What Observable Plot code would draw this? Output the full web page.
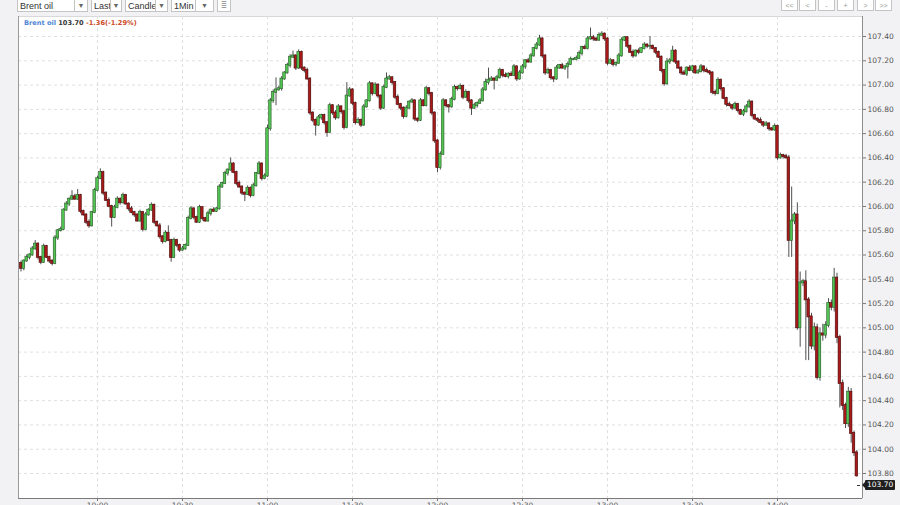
<!DOCTYPE html>
<html><head><meta charset="utf-8">
<script src="https://cdn.jsdelivr.net/npm/d3@7"></script>
<script src="https://cdn.jsdelivr.net/npm/@observablehq/plot@0.6"></script>
<style>
html,body{margin:0;padding:0;background:#f2f2f4;}
#wrap{position:relative;width:900px;height:505px;overflow:hidden;background:#f2f2f4;font-family:"Liberation Sans",Arial,sans-serif;}
#chart{position:absolute;left:0;top:0;}
.sel{position:absolute;top:-3px;height:15px;border:1px solid #c4c4c4;background:#fff;box-sizing:border-box;font-size:9px;color:#333;line-height:16px;padding-left:2px;overflow:hidden;white-space:nowrap;}
.sel .arr{position:absolute;right:0;top:0;bottom:0;border-left:1px solid #c4c4c4;background:#fff;font-size:7px;color:#666;text-align:center;line-height:16px;}
.nav{position:absolute;top:-3px;height:14px;border:1px solid #c4c4c4;background:#fff;box-sizing:border-box;font-size:7px;color:#999;text-align:center;line-height:15px;}
#legend{position:absolute;left:24px;top:19px;font-family:"DejaVu Sans",sans-serif;font-weight:bold;font-size:6.6px;white-space:nowrap;}
#last{position:absolute;left:865px;height:10px;background:#1e1e1e;color:#fff;font-family:"DejaVu Sans",sans-serif;font-size:7.5px;line-height:10px;padding:0 2px;border-radius:1px;}
#last:before{content:"";position:absolute;left:-3px;top:2px;border-top:3px solid transparent;border-bottom:3px solid transparent;border-right:3px solid #1e1e1e;}
#dash{position:absolute;left:857px;width:3px;height:1px;background:#333;}
</style></head><body>
<div id="wrap"><div id="chart"></div></div>
<script>
// ---- data ----
const symbol = "Brent oil";
const lastPrice = 103.70;
const changeText = "-1.36(-1.29%)";
const toolbarItems = ["Brent oil", "Last", "Candle", "1Min"];
const navButtons = ["<<", "<", "-", "+", ">", ">>"];
const startTime = "09:33";          // first 1-minute candle
const firstOpen = 105.53;
const closes = [
105.49,105.55,105.58,105.60,105.65,105.69,105.58,105.54,105.67,105.58,
105.55,105.53,105.74,105.80,105.81,105.97,106.02,106.06,106.08,106.06,
106.09,105.96,105.93,105.87,105.84,105.95,106.13,106.23,106.28,106.11,
106.05,106.00,105.91,105.99,106.06,106.03,106.09,106.02,105.98,105.95,
105.93,105.88,105.95,105.81,105.93,105.97,106.01,105.87,105.84,105.75,
105.71,105.78,105.72,105.58,105.72,105.68,105.64,105.65,105.68,105.90,
105.98,105.91,105.87,105.99,105.90,105.88,105.94,105.97,105.96,105.98,
106.16,106.19,106.27,106.30,106.35,106.28,106.19,106.16,106.11,106.10,
106.15,106.09,106.17,106.27,106.35,106.23,106.25,106.64,106.87,106.94,
106.96,106.97,107.05,107.10,107.16,107.23,107.24,107.14,107.27,107.14,
107.12,107.05,106.77,106.71,106.67,106.73,106.75,106.69,106.61,106.83,
106.77,106.73,106.82,106.78,106.65,106.91,106.96,106.85,106.69,106.71,
106.67,106.82,106.87,107.01,106.93,107.00,106.91,106.81,106.98,107.05,
107.06,107.02,106.90,106.84,106.81,106.74,106.81,106.86,106.87,106.72,
106.71,106.87,106.83,106.97,106.93,106.77,106.54,106.32,106.43,106.87,
106.83,106.82,106.88,106.98,106.97,106.99,106.90,106.94,106.87,106.81,
106.83,106.85,106.87,106.96,107.02,107.04,107.05,107.04,107.06,107.12,
107.08,107.07,107.09,107.08,107.15,107.05,107.10,107.15,107.20,107.19,
107.24,107.30,107.33,107.38,107.24,107.10,107.12,107.06,107.05,107.14,
107.16,107.14,107.15,107.17,107.21,107.21,107.22,107.26,107.31,107.30,
107.38,107.39,107.38,107.37,107.41,107.42,107.38,107.18,107.20,107.17,
107.18,107.24,107.37,107.39,107.32,107.27,107.24,107.28,107.27,107.30,
107.33,107.32,107.32,107.30,107.27,107.23,107.12,107.01,107.19,107.20,
107.28,107.19,107.14,107.10,107.09,107.14,107.12,107.15,107.10,107.11,
107.15,107.12,107.11,107.10,106.94,106.93,107.04,106.97,106.89,106.84,
106.83,106.81,106.84,106.79,106.76,106.78,106.82,106.86,106.75,106.72,
106.71,106.69,106.67,106.68,106.64,106.63,106.66,106.40,106.42,106.41,
106.40,105.72,105.88,105.93,105.00,105.37,105.38,105.23,105.09,104.85,
105.00,104.59,104.95,104.94,105.02,105.20,105.17,105.41,104.92,104.54,
104.36,104.21,104.47,104.13,103.97,103.78
];
// upper / lower shadow beyond the body, in cents
const wickHi = [
2,1,2,1,2,3,1,1,2,1, 1,1,2,1,2,1,2,1,5,2, 5,1,1,1,2,1,2,2,3,1, 1,2,1,2,2,1,2,1,1,2,
1,1,2,1,2,1,2,1,1,2, 1,2,6,1,2,1,1,2,1,2, 2,1,1,2,1,1,2,1,2,1, 2,1,2,1,5,1,1,2,1,1,
2,1,2,1,2,1,2,3,2,2, 10,2,2,1,2,2,4,1,2,1, 1,2,1,1,1,2,1,1,1,2, 1,2,2,1,1,11,2,1,1,2,
1,2,1,2,1,2,1,1,2,5, 2,1,1,2,1,1,2,1,2,1, 1,2,1,2,1,1,1,1,2,2, 1,1,2,2,1,2,1,2,1,1,
2,1,2,2,3,10,2,1,2,2, 1,2,1,2,2,1,2,2,1,2, 2,1,2,3,1,1,2,1,1,2, 1,2,1,2,2,1,2,2,1,2,
2,8,2,1,2,2,1,1,2,1, 1,2,2,1,1,1,2,1,2,1, 2,1,8,1,1,1,1,1,3,2, 4,1,1,1,2,1,2,1,1,2,
2,1,2,1,1,2,2,1,1,1, 2,1,2,1,1,2,2,2,1,1, 1,2,1,2,1,1,2,1,2,1, 2,2,28,2,10,9,2,9,2,3,
4,3,5,8,3,4,3,8,4,2, 3,2,4,3,2,2
];
const wickLo = [
3,2,1,2,1,1,2,2,1,1, 2,2,1,2,1,1,1,2,1,1, 1,2,1,2,2,1,1,1,1,2, 1,1,8,1,1,2,1,1,2,1,
2,1,1,2,1,1,1,2,1,2, 2,1,1,4,1,2,2,1,1,1, 1,2,1,1,2,1,1,2,1,1, 1,1,1,2,1,1,2,1,2,6,
1,2,1,1,1,2,1,1,2,2, 11,1,2,1,1,2,1,2,1,2, 2,1,2,2,9,1,2,2,4,1, 2,2,1,2,2,1,1,2,2,1,
2,1,1,1,2,1,2,2,1,1, 1,2,2,1,2,2,1,1,1,2, 2,1,1,1,2,2,2,4,2,1, 2,5,1,1,2,1,2,1,2,6,
1,2,1,1,1,2,1,8,1,1, 2,1,2,1,1,2,1,1,2,1, 1,1,1,1,2,2,1,2,3,1, 1,1,2,10,1,1,1,1,2,1,
1,1,2,1,1,1,2,2,1,2, 2,1,1,1,2,1,2,1,2,1, 1,2,3,1,2,1,2,2,1,2, 1,2,1,2,1,2,1,2,1,1,
1,2,1,2,2,2,1,2,1,2, 1,2,1,2,1,2,1,1,2,1, 2,1,2,1,2,1,1,2,1,2, 1,14,14,3,2,16,3,50,36,3,
4,2,3,5,3,2,3,4,5,20, 4,4,3,8,3,1
];
const priceTicks = [103.80,104.00,104.20,104.40,104.60,104.80,105.00,105.20,105.40,105.60,105.80,106.00,106.20,106.40,106.60,106.80,107.00,107.20,107.40];
const timeTicks = ["10:00","10:30","11:00","11:30","12:00","12:30","13:00","13:30","14:00"];
const viewFrom = "09:32:07", viewTo = "14:30:00";
const yView = [103.594, 107.565];

// ---- build ----
const day = [2014, 0, 2];
const toDate = s => { const p = s.split(":").map(Number); return new Date(Date.UTC(...day, p[0], p[1], p[2] || 0)); };
const t0 = toDate(startTime);
const candles = closes.map((c, i) => {
  const o = i === 0 ? firstOpen : closes[i - 1];
  return {t: new Date(+t0 + i * 60000), open: o, close: c,
          high: Math.max(o, c) + wickHi[i] / 100, low: Math.min(o, c) - wickLo[i] / 100};
});
const tickDates = timeTicks.map(toDate);
const xDomain = [toDate(viewFrom), toDate(viewTo)];
const up = d => d.close >= d.open;

const plot = Plot.plot({
  width: 900, height: 505,
  marginLeft: 18, marginRight: 38, marginTop: 16, marginBottom: 7,
  style: {background: "transparent", fontFamily: "DejaVu Sans, sans-serif", fontSize: "7.5px", color: "#555", overflow: "visible"},
  x: {type: "utc", domain: xDomain},
  y: {domain: yView},
  marks: [
    Plot.frame({fill: "white", stroke: "#d8d8d8"}),
    Plot.gridY(priceTicks, {stroke: "#e0e0e0", strokeOpacity: 1, strokeDasharray: "3,3"}),
    Plot.gridX(tickDates, {stroke: "#e0e0e0", strokeOpacity: 1, strokeDasharray: "3,3"}),
    Plot.ruleX(candles, {x: "t", y1: "low", y2: "high", stroke: "#505050", strokeWidth: 1}),
    Plot.rect(candles, {
      x1: d => new Date(+d.t - 27000), x2: d => new Date(+d.t + 27000),
      y1: "open", y2: "close", insetTop: -0.5, insetBottom: -0.5,
      fill: d => up(d) ? "#52c452" : "#a81a1a",
      stroke: d => up(d) ? "#2a5a2a" : "#4a0c0c", strokeWidth: 0.6
    }),
    Plot.ruleX([xDomain[0]], {stroke: "#9a9a9a"}),
    Plot.ruleX([xDomain[1]], {stroke: "#8c8c8c"}),
    Plot.ruleY([yView[0]], {stroke: "#7a7a7a"}),
    Plot.axisY(priceTicks, {anchor: "right", tickSize: 3, tickPadding: 2, tickFormat: d => d.toFixed(2), label: null, stroke: "#777"}),
    Plot.axisX(tickDates, {anchor: "bottom", tickSize: 3, tickPadding: 1, tickFormat: d3.utcFormat("%H:%M"), label: null, stroke: "#777"})
  ]
});
const wrap = document.getElementById("wrap");
document.getElementById("chart").appendChild(plot);

// toolbar
const selPos = [[17, 71, 12], [91, 31, 10], [125, 43, 11], [171, 43, 17]];
toolbarItems.forEach((label, i) => {
  const [l, w, aw] = selPos[i];
  const el = document.createElement("div");
  el.className = "sel";
  el.style.left = l + "px"; el.style.width = w + "px";
  el.textContent = label;
  const a = document.createElement("span");
  a.className = "arr"; a.style.width = aw + "px"; a.textContent = "▼";
  el.appendChild(a);
  wrap.appendChild(el);
});
const icon = document.createElement("div");
icon.className = "nav"; icon.style.left = "217px"; icon.style.width = "14px"; icon.style.height = "15px";
icon.textContent = "≣";
wrap.appendChild(icon);
const navPos = [781, 799, 818, 837, 857, 875];
navButtons.forEach((b, i) => {
  const el = document.createElement("div");
  el.className = "nav"; el.style.left = navPos[i] + "px"; el.style.width = "17px";
  el.textContent = b;
  wrap.appendChild(el);
});

// legend
const lg = document.createElement("div");
lg.id = "legend";
lg.innerHTML = `<span style="color:#4f86d6">${symbol}</span> <span style="color:#333">${lastPrice.toFixed(2)}</span> <span style="color:#cc4a26">${changeText}</span>`;
wrap.appendChild(lg);

// last price marker
const yLast = plot.scale("y").apply(lastPrice);
const lp = document.createElement("div");
lp.id = "last"; lp.style.top = (yLast - 5) + "px"; lp.textContent = lastPrice.toFixed(2);
wrap.appendChild(lp);
const dash = document.createElement("div");
dash.id = "dash"; dash.style.top = Math.round(yLast) + "px";
wrap.appendChild(dash);
</script>
</body></html>
